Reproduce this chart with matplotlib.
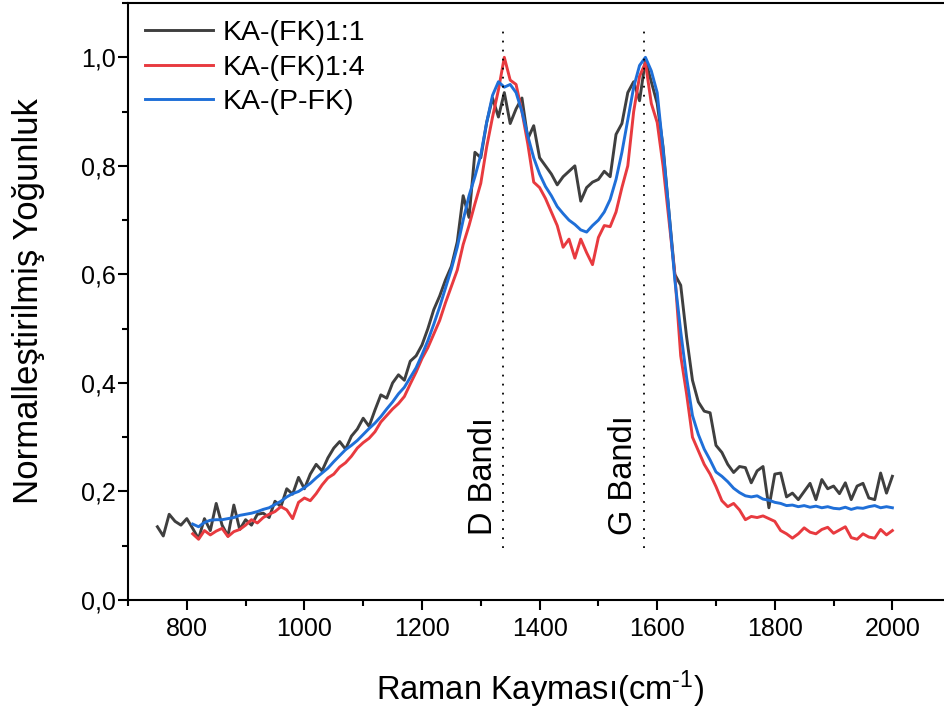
import matplotlib
matplotlib.use("Agg")
import matplotlib.pyplot as plt
from matplotlib.ticker import MultipleLocator, FuncFormatter

plt.rcParams['font.family'] = ['Liberation Sans', 'DejaVu Sans']
plt.rcParams['mathtext.fontset'] = 'custom'
plt.rcParams['mathtext.rm'] = 'Liberation Sans'
plt.rcParams['mathtext.it'] = 'Liberation Sans:italic'
plt.rcParams['mathtext.bf'] = 'Liberation Sans:bold'

# Raman shift axes (cm-1)
x_11 = list(range(750, 2001, 10))
x_14 = list(range(810, 2001, 10))
x_pfk = list(range(810, 2001, 10))

# KA-(FK)1:1
y_11 = [0.135, 0.118, 0.158, 0.145, 0.138, 0.150, 0.132, 0.113, 0.150, 0.128,
        0.178, 0.138, 0.118, 0.175, 0.130, 0.148, 0.138, 0.158, 0.160, 0.152,
        0.182, 0.172, 0.205, 0.195, 0.226, 0.205, 0.232, 0.250, 0.238, 0.262,
        0.280, 0.292, 0.278, 0.302, 0.315, 0.335, 0.320, 0.350, 0.378, 0.372,
        0.400, 0.415, 0.405, 0.440, 0.450, 0.470, 0.500, 0.535, 0.560, 0.590,
        0.615, 0.660, 0.745, 0.705, 0.825, 0.815, 0.880, 0.925, 0.890, 0.935,
        0.878, 0.905, 0.925, 0.850, 0.874, 0.815, 0.800, 0.785, 0.765, 0.780,
        0.790, 0.800, 0.735, 0.760, 0.770, 0.775, 0.790, 0.780, 0.858, 0.878,
        0.935, 0.955, 0.920, 0.995, 0.955, 0.915, 0.835, 0.715, 0.600, 0.580,
        0.485, 0.405, 0.365, 0.348, 0.345, 0.285, 0.272, 0.250, 0.235, 0.246,
        0.244, 0.216, 0.238, 0.246, 0.170, 0.232, 0.234, 0.190, 0.197, 0.185,
        0.200, 0.215, 0.185, 0.222, 0.205, 0.210, 0.196, 0.216, 0.185, 0.210,
        0.215, 0.188, 0.185, 0.234, 0.197, 0.228]

# KA-(FK)1:4
y_14 = [0.122, 0.112, 0.128, 0.120, 0.127, 0.132, 0.117, 0.126, 0.130, 0.138,
        0.148, 0.142, 0.152, 0.158, 0.163, 0.172, 0.166, 0.150, 0.180, 0.188,
        0.183, 0.196, 0.212, 0.225, 0.232, 0.245, 0.253, 0.265, 0.280, 0.290,
        0.298, 0.310, 0.328, 0.340, 0.352, 0.362, 0.375, 0.398, 0.420, 0.445,
        0.465, 0.490, 0.515, 0.548, 0.578, 0.608, 0.655, 0.690, 0.730, 0.768,
        0.835, 0.890, 0.940, 1.000, 0.958, 0.950, 0.900, 0.840, 0.770, 0.760,
        0.740, 0.715, 0.690, 0.650, 0.665, 0.630, 0.665, 0.640, 0.618, 0.668,
        0.690, 0.688, 0.715, 0.760, 0.800, 0.900, 0.965, 0.990, 0.915, 0.880,
        0.800, 0.700, 0.600, 0.450, 0.380, 0.300, 0.275, 0.250, 0.232, 0.209,
        0.183, 0.172, 0.178, 0.166, 0.148, 0.154, 0.152, 0.155, 0.150, 0.145,
        0.128, 0.122, 0.114, 0.122, 0.133, 0.125, 0.122, 0.130, 0.134, 0.123,
        0.129, 0.135, 0.115, 0.112, 0.122, 0.116, 0.114, 0.130, 0.120, 0.128]

# KA-(P-FK)
y_pfk = [0.140, 0.135, 0.143, 0.147, 0.148, 0.148, 0.150, 0.152, 0.156, 0.158,
         0.160, 0.163, 0.167, 0.170, 0.176, 0.182, 0.190, 0.196, 0.200, 0.207,
         0.215, 0.225, 0.234, 0.243, 0.255, 0.266, 0.277, 0.285, 0.294, 0.305,
         0.316, 0.326, 0.338, 0.352, 0.365, 0.380, 0.392, 0.410, 0.428, 0.452,
         0.478, 0.508, 0.540, 0.575, 0.610, 0.650, 0.700, 0.745, 0.780, 0.820,
         0.880, 0.930, 0.955, 0.945, 0.950, 0.935, 0.900, 0.855, 0.815, 0.785,
         0.762, 0.745, 0.725, 0.712, 0.700, 0.692, 0.682, 0.678, 0.690, 0.700,
         0.715, 0.738, 0.775, 0.825, 0.885, 0.945, 0.985, 1.000, 0.975, 0.935,
         0.830, 0.715, 0.590, 0.495, 0.410, 0.340, 0.305, 0.278, 0.258, 0.236,
         0.228, 0.218, 0.206, 0.198, 0.192, 0.190, 0.192, 0.186, 0.184, 0.180,
         0.178, 0.174, 0.175, 0.172, 0.174, 0.171, 0.173, 0.170, 0.172, 0.169,
         0.168, 0.171, 0.167, 0.170, 0.169, 0.172, 0.174, 0.170, 0.172, 0.170]

labels = ["KA-(FK)1:1", "KA-(FK)1:4", "KA-(P-FK)"]
colors = ["#3f3f3f", "#e83a3f", "#1f6fd8"]

# Band positions and their labels
band_pos = [1338, 1578]
band_names = ["D Bandı", "G Bandı"]
band_label_x = [1305, 1543]

fig = plt.figure(figsize=(9.44, 7.09), dpi=100)
ax = fig.add_axes([0.1356, 0.1537, 0.872, 0.842])

for xs, ys, lab, c in zip([x_11, x_14, x_pfk], [y_11, y_14, y_pfk], labels, colors):
    ax.plot(xs, ys, color=c, lw=2.1, label=lab)

for bx, name, tx in zip(band_pos, band_names, band_label_x):
    ax.plot([bx, bx], [0.095, 1.055], color="black", lw=1.3, linestyle=(0, (1, 4)))
    ax.text(tx, 0.12, name, rotation=90, ha="center", va="bottom", fontsize=23.5)

ax.set_xlim(700, 2100)
ax.set_ylim(0, 1.1)
ax.xaxis.set_major_locator(MultipleLocator(200))
ax.xaxis.set_minor_locator(MultipleLocator(100))
ax.yaxis.set_major_locator(MultipleLocator(0.2))
ax.yaxis.set_minor_locator(MultipleLocator(0.1))
ax.yaxis.set_major_formatter(FuncFormatter(lambda v, p: f"{v:.1f}".replace(".", ",")))
ax.xaxis.set_major_formatter(FuncFormatter(lambda v, p: f"{v:.0f}" if 800 <= v <= 2000 else ""))

ax.tick_params(which="major", direction="out", length=7, width=1.5, labelsize=18, pad=5)
ax.tick_params(which="minor", direction="out", length=4.5, width=1.5)
ax.tick_params(axis="y", which="major", pad=2)
for s in ax.spines.values():
    s.set_linewidth(1.5)

ax.set_xlabel(r"Raman Kayması(cm$^{\text{-}1}$)", fontsize=23.5, labelpad=20)
ax.set_ylabel("Normalleştirilmiş Yoğunluk", fontsize=25, labelpad=26)

ax.legend(loc="upper left", bbox_to_anchor=(0.0, 1.0), frameon=False, fontsize=20.5,
          handlelength=2.4, handletextpad=0.32, labelspacing=0.3, borderaxespad=0.2)

fig.savefig("out.png", dpi=100)
